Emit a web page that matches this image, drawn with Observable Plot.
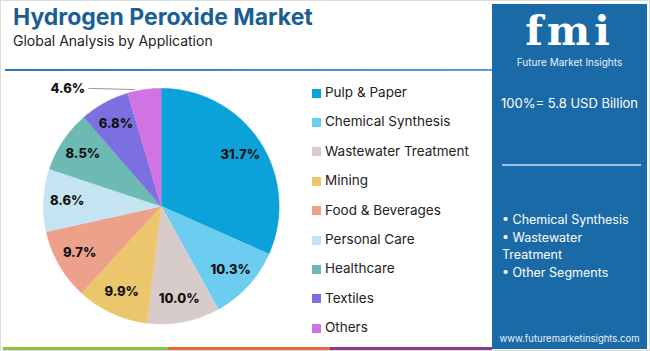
<!DOCTYPE html>
<html>
<head>
<meta charset="utf-8">
<script src="https://cdn.jsdelivr.net/npm/d3@7"></script>
<script src="https://cdn.jsdelivr.net/npm/@observablehq/plot@0.6"></script>
<style>
  html, body { margin: 0; padding: 0; background: #fff; }
  #wrap { position: relative; width: 650px; height: 351px; overflow: hidden; font-family: Inter, "Open Sans", sans-serif; box-sizing: border-box; border: 1px solid #dcdcdc; }
  #title { position: absolute; left: 12px; top: 2px; font-size: 23px; font-weight: 700; color: #1a5e96; white-space: nowrap; }
  #subtitle { position: absolute; left: 12px; top: 31px; font-size: 14px; color: #222; white-space: nowrap; }
  #rule { position: absolute; left: 4px; top: 68px; width: 487px; height: 2px; background: linear-gradient(90deg, #2c78b4, #5aa0d4); }
  #chart { position: absolute; left: -1px; top: -1px; }
  #legend { position: absolute; left: 311px; top: 83px; }
  .li { position: absolute; left: 0; white-space: nowrap; font-size: 13.5px; color: #222; height: 16px; line-height: 16px; }
  .sw { display: inline-block; width: 9px; height: 9px; margin-right: 4px; vertical-align: -0.5px; }
  #panel { position: absolute; left: 491px; top: 3px; width: 155px; height: 345px; background: #1b6aa8; color: #fff; }
  #logo { position: absolute; left: 0; width: 155px; top: 7px; height: 40px; text-align: center; font-family: "DejaVu Serif", serif; font-weight: 700; font-size: 41px; letter-spacing: 4px; color: #fff; line-height: 40px; }
  #logosub { position: absolute; left: 0; width: 155px; top: 52px; text-align: center; font-size: 10px; line-height: 12px; color: #e8f1fa; }
  #total { position: absolute; left: 0; width: 155px; top: 91px; text-align: center; font-size: 13px; }
  #prule { position: absolute; left: 10px; top: 160px; width: 139px; height: 2px; background: #9cc4e4; }
  #bullets { position: absolute; left: 10px; top: 207px; font-size: 12.5px; line-height: 17.5px; }
  #url { position: absolute; left: 0; width: 155px; top: 329px; text-align: center; font-size: 9.5px; color: #e8f1fa; }
  #stripe { position: absolute; left: 2px; top: 346px; height: 3px; width: 489px; display: flex; }
</style>
</head>
<body>
<div id="wrap">
  <div id="title"></div>
  <div id="subtitle"></div>
  <div id="rule"></div>
  <div id="chart"></div>
  <div id="legend"></div>
  <div id="panel">
    <div id="logo">fmi</div>
    <div id="logosub">Future Market Insights</div>
    <div id="total"></div>
    <div id="prule"></div>
    <div id="bullets"></div>
    <div id="url">www.futuremarketinsights.com</div>
  </div>
  <div id="stripe"></div>
</div>
<script>
const titleText = "Hydrogen Peroxide Market";
const subtitleText = "Global Analysis by Application";
const totalText = "100%= 5.8 USD Billion";
const bulletItems = ["• Chemical Synthesis", "• Wastewater Treatment", "• Other Segments"];

const categories = ["Pulp & Paper", "Chemical Synthesis", "Wastewater Treatment", "Mining", "Food & Beverages", "Personal Care", "Healthcare", "Textiles", "Others"];
const values = [31.7, 10.3, 10.0, 9.9, 9.7, 8.6, 8.5, 6.8, 4.6];
const colors = ["#0ba2d9", "#6ccdf0", "#d8ccca", "#ecc66c", "#eda18b", "#c5e4f1", "#6cbab3", "#7c70e0", "#d073e3"];
const stripeColors = ["#8cc152", "#e8683a", "#8e3590"];
const stripeWidths = [165, 162, 162];

document.getElementById("title").textContent = titleText;
document.getElementById("subtitle").textContent = subtitleText;
document.getElementById("total").textContent = totalText;
document.getElementById("bullets").innerHTML = bulletItems.map(t => `<div style="width:140px">${t}</div>`).join("");
document.getElementById("stripe").innerHTML = stripeColors.map((c, i) => `<div style="width:${stripeWidths[i]}px;background:${c}"></div>`).join("");

// legend
const legend = document.getElementById("legend");
categories.forEach((c, i) => {
  const d = document.createElement("div");
  d.className = "li";
  d.style.top = (i * 29.4) + "px";
  d.innerHTML = `<span class="sw" style="background:${colors[i]}"></span>${c}`;
  legend.appendChild(d);
});

// pie geometry in unit space (y up)
const table = categories.map((c, i) => ({category: c, value: values[i]}));
const arcs = d3.pie().sort(null).value(d => d.value).startAngle(0).endAngle(2 * Math.PI)(table);
const polys = [];
arcs.forEach(a => {
  const c = a.data.category;
  polys.push({category: c, x: 0, y: 0});
  const n = Math.max(2, Math.ceil((a.endAngle - a.startAngle) / 0.02));
  for (let k = 0; k <= n; k++) {
    const t = a.startAngle + (a.endAngle - a.startAngle) * k / n;
    polys.push({category: c, x: Math.sin(t), y: Math.cos(t)});
  }
});
const labels = arcs.map(a => {
  const m = (a.startAngle + a.endAngle) / 2;
  return {category: a.data.category, text: a.data.value.toFixed(1) + "%", mid: m, x: 0.8 * Math.sin(m), y: 0.8 * Math.cos(m)};
});
const inside = labels.filter(d => d.category !== "Others");
const outside = labels.filter(d => d.category === "Others").map(d => ({
  ...d, lx: -0.62, ly: 1.0, ex: Math.sin(d.mid) * 0.999 - 0.08, ey: Math.cos(d.mid) * 1.0
}));

const plot = Plot.plot({
  width: 650, height: 351,
  marginLeft: 43, marginRight: 371, marginTop: 88, marginBottom: 27,
  x: {domain: [-1, 1], axis: null},
  y: {domain: [-1, 1], axis: null},
  color: {domain: categories, range: colors},
  style: {background: "transparent", overflow: "visible"},
  marks: [
    Plot.line(polys, {x: "x", y: "y", z: "category", fill: "category", stroke: "category", strokeWidth: 0.5, curve: "linear"}),
    Plot.text(inside, {x: "x", y: "y", text: "text", fill: "#111", fontSize: 13, fontWeight: 800, fontFamily: "Inter, sans-serif"}),
    Plot.link(outside, {x1: "lx", y1: "ly", x2: "ex", y2: "ey", stroke: "#999", strokeWidth: 1}),
    Plot.text(outside, {x: "lx", y: "ly", text: "text", textAnchor: "end", dx: -3, fill: "#111", fontSize: 13, fontWeight: 800, fontFamily: "Inter, sans-serif"})
  ]
});
document.getElementById("chart").appendChild(plot);
</script>
</body>
</html>
